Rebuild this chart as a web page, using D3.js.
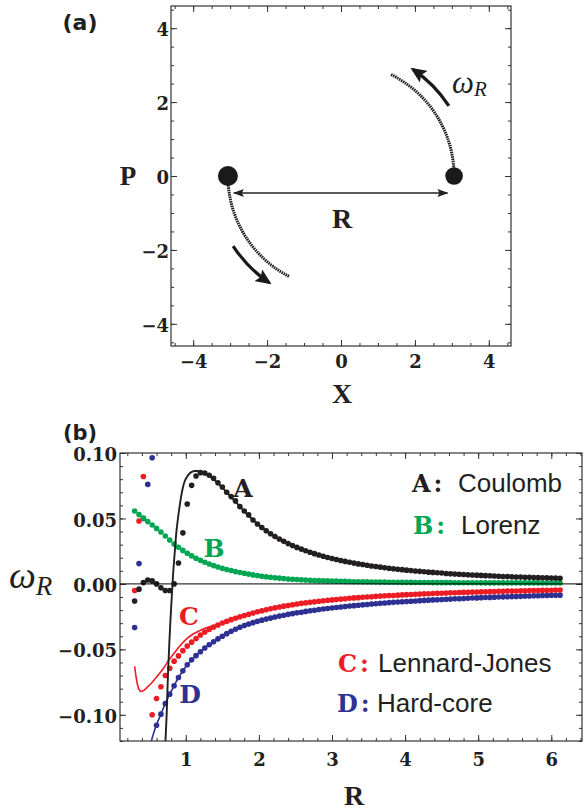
<!DOCTYPE html>
<html><head><meta charset="utf-8">
<script src="https://cdn.jsdelivr.net/npm/d3@7"></script>
<style>body{margin:0;background:#fff;}svg{display:block;}</style>
</head><body>
<svg id="c" width="584" height="810"></svg>
<script>
// ================= DATA =================
// Panel (a) schematic
const aTicks = [-4, -2, 0, 2, 4];
const aTickLabels = ["\u22124", "\u22122", "0", "2", "4"];
const particleX = [-3.06, 3.06];
const particleY = [0, 0];
const orbitRadius = 3.06;
const orbitSpanDeg = [[180, 243], [0, 64]];
const arrowRadius = 3.48;
const arrowSpanDeg = [[213, 236], [33, 56]];
const sepArrowX = [-2.9, 2.88];
const sepArrowY = -0.46;

// Panel (b)
const xTicksB = [1, 2, 3, 4, 5, 6];
const xTickLabelsB = ["1", "2", "3", "4", "5", "6"];
const yTicksB = [0.10, 0.05, 0, -0.05, -0.10];
const yTickLabelsB = ["0.10", "0.05", "0.00", "\u22120.05", "\u22120.10"];

const R = [
0.30,0.36,0.42,0.48,0.54,0.60,0.66,0.72,0.78,0.84,
0.90,0.96,1.02,1.08,1.14,1.20,1.26,1.32,1.38,1.44,
1.50,1.56,1.62,1.68,1.74,1.80,1.86,1.92,1.98,2.04,
2.10,2.16,2.22,2.28,2.34,2.40,2.46,2.52,2.58,2.64,
2.70,2.76,2.82,2.88,2.94,3.00,3.06,3.12,3.18,3.24,
3.30,3.36,3.42,3.48,3.54,3.60,3.66,3.72,3.78,3.84,
3.90,3.96,4.02,4.08,4.14,4.20,4.26,4.32,4.38,4.44,
4.50,4.56,4.62,4.68,4.74,4.80,4.86,4.92,4.98,5.04,
5.10,5.16,5.22,5.28,5.34,5.40,5.46,5.52,5.58,5.64,
5.70,5.76,5.82,5.88,5.94,6.00,6.06,6.12];

const coulomb = [
-0.013,-0.004,0.001,0.003,0.0023,0.000,-0.003,-0.005,-0.005,0.000,
0.016,0.039,0.061,0.0753,0.0824,0.085,0.0847,0.083,0.0807,0.0773,
0.074,0.070,0.0667,0.0634,0.059,0.0557,0.0527,0.0488,0.0458,0.0431,
0.0406,0.0383,0.0362,0.0343,0.0325,0.0308,0.0293,0.0279,0.0266,0.0253,
0.0242,0.0231,0.0221,0.0211,0.0202,0.0194,0.0186,0.0179,0.0172,0.0165,
0.0159,0.0153,0.0148,0.0142,0.0137,0.0133,0.0128,0.0124,0.0120,0.0116,
0.0112,0.0109,0.0105,0.0102,0.0099,0.0096,0.0093,0.0090,0.0088,0.0085,
0.0083,0.0080,0.0078,0.0076,0.0074,0.0072,0.0070,0.0068,0.0067,0.0065,
0.0063,0.0062,0.0060,0.0059,0.0057,0.0056,0.0055,0.0053,0.0052,0.0051,
0.0050,0.0049,0.0048,0.0047,0.0046,0.0045,0.0044,0.0043];

const lorenz = [
0.0557,0.0530,0.0503,0.0476,0.0450,0.0424,0.0396,0.0366,0.0335,0.0305,
0.0280,0.0256,0.0234,0.0214,0.0196,0.0180,0.0165,0.0152,0.0140,0.0129,
0.0119,0.0110,0.0102,0.0094,0.0087,0.0081,0.0075,0.0069,0.0064,0.0059,
0.0055,0.0051,0.0047,0.0044,0.0041,0.0038,0.0036,0.0034,0.0032,0.0030,
0.0028,0.0026,0.0025,0.0024,0.0023,0.0022,0.0021,0.0020,0.0019,0.0018,
0.0017,0.0017,0.0016,0.0016,0.0015,0.0015,0.0014,0.0014,0.0013,0.0013,
0.0013,0.0012,0.0012,0.0012,0.0011,0.0011,0.0011,0.0011,0.0010,0.0010,
0.0010,0.0010,0.0010,0.0009,0.0009,0.0009,0.0009,0.0009,0.0009,0.0008,
0.0008,0.0008,0.0008,0.0008,0.0008,0.0008,0.0008,0.0008,0.0008,0.0008,
0.0008,0.0008,0.0008,0.0007,0.0007,0.0007,0.0007,0.0007];

const lennardJones = [
-0.005,0.048,0.082,null,-0.100,-0.0875,-0.0786,-0.070,-0.0644,-0.059,
-0.055,-0.051,-0.0475,-0.0445,-0.0417,-0.039,-0.0368,-0.0348,-0.033,-0.0314,
-0.0299,-0.0286,-0.0273,-0.0262,-0.0251,-0.0241,-0.0232,-0.0222,-0.0213,-0.0205,
-0.0197,-0.0190,-0.0183,-0.0176,-0.0170,-0.0165,-0.0159,-0.0154,-0.0149,-0.0145,
-0.0141,-0.0137,-0.0133,-0.0129,-0.0125,-0.0122,-0.0119,-0.0116,-0.0113,-0.0110,
-0.0107,-0.0105,-0.0102,-0.0100,-0.0098,-0.0095,-0.0093,-0.0091,-0.0089,-0.0088,
-0.0086,-0.0084,-0.0082,-0.0081,-0.0079,-0.0078,-0.0076,-0.0075,-0.0073,-0.0072,
-0.0071,-0.0070,-0.0068,-0.0067,-0.0066,-0.0065,-0.0064,-0.0063,-0.0062,-0.0061,
-0.0060,-0.0059,-0.0058,-0.0057,-0.0056,-0.0055,-0.0055,-0.0054,-0.0053,-0.0052,
-0.0051,-0.0051,-0.0050,-0.0049,-0.0049,-0.0048,-0.0047,-0.0047];

const hardCore = [
-0.0333,0.0155,0.050,0.076,0.0964,-0.108,-0.0995,-0.0913,-0.0842,-0.0778,
-0.0715,-0.0664,-0.0618,-0.0580,-0.0548,-0.0518,-0.0490,-0.0465,-0.0442,-0.0420,
-0.0400,-0.0380,-0.0362,-0.0346,-0.0331,-0.0318,-0.0306,-0.0296,-0.0286,-0.0277,
-0.0269,-0.0261,-0.0253,-0.0246,-0.0239,-0.0233,-0.0227,-0.0221,-0.0216,-0.0210,
-0.0205,-0.0201,-0.0196,-0.0192,-0.0188,-0.0184,-0.0180,-0.0176,-0.0172,-0.0169,
-0.0166,-0.0163,-0.0160,-0.0157,-0.0154,-0.0151,-0.0148,-0.0146,-0.0143,-0.0141,
-0.0139,-0.0136,-0.0134,-0.0132,-0.0130,-0.0128,-0.0126,-0.0124,-0.0122,-0.0121,
-0.0119,-0.0117,-0.0116,-0.0114,-0.0113,-0.0111,-0.0110,-0.0108,-0.0107,-0.0105,
-0.0104,-0.0103,-0.0101,-0.0100,-0.0099,-0.0098,-0.0097,-0.0096,-0.0095,-0.0093,
-0.0092,-0.0091,-0.0090,-0.0089,-0.0088,-0.0087,-0.0087,-0.0086];

// analytic curves (solid lines)
const coulombLineR = [0.715,0.74,0.757,0.775,0.79,0.81,0.826,0.85,0.87,0.895,0.92,0.94,0.96,0.986,1.02,1.055,1.09,1.12,1.16,1.2,1.26,1.32,1.4,1.5,1.6,1.7,1.8,1.9,2.0,2.2,2.4,2.6,2.8,3.0,3.3,3.6,4.0,4.5,5.0,5.5,6.12];
const coulombLineW = [-0.128,-0.097,-0.068,-0.045,-0.028,-0.008,0.007,0.025,0.039,0.051,0.061,0.068,0.0735,0.0786,0.082,0.0845,0.0858,0.0863,0.0862,0.0856,0.0843,0.0824,0.079,0.0735,0.0675,0.0615,0.0555,0.050,0.045,0.0368,0.0308,0.0262,0.0224,0.0194,0.0159,0.0133,0.0106,0.0083,0.0066,0.0054,0.0043];
const ljLineR = [0.30,0.32,0.34,0.36,0.39,0.43,0.47,0.52,0.58,0.64,0.70,0.76,0.84,0.92,1.00,1.08,1.16,1.24,1.32,1.40,1.50,1.62,1.74,1.86,2.0,2.2,2.4,2.7,3.0,3.5,4.0,4.5,5.0,5.5,6.12];
const ljLineW = [-0.063,-0.071,-0.077,-0.0805,-0.0822,-0.0812,-0.079,-0.0765,-0.0725,-0.0685,-0.064,-0.0588,-0.053,-0.0472,-0.0425,-0.039,-0.0365,-0.0345,-0.0328,-0.0315,-0.0299,-0.0273,-0.0251,-0.0232,-0.0211,-0.0186,-0.0165,-0.0141,-0.0122,-0.0099,-0.0083,-0.0071,-0.0061,-0.0054,-0.0047];
const hcLineR = [0.515,0.53,0.56,0.60,0.66,0.72,0.78,0.84,0.90,0.96,1.02,1.10,1.20,1.35,1.50,1.70,1.86,2.1,2.4,2.7,3.0,3.5,4.0,4.5,5.0,5.5,6.12];
const hcLineW = [-0.125,-0.12,-0.114,-0.1075,-0.0995,-0.0913,-0.0842,-0.0778,-0.0715,-0.0664,-0.0618,-0.0568,-0.0518,-0.0453,-0.0400,-0.0341,-0.0306,-0.0269,-0.0233,-0.0205,-0.0184,-0.0155,-0.0134,-0.0119,-0.0106,-0.0096,-0.0086];

const seriesKeys = ["A", "B", "C", "D"];
const seriesNames = ["Coulomb", "Lorenz", "Lennard-Jones", "Hard-core"];

// ================= STYLE / LAYOUT =================
const COL = {A: "#231f20", B: "#00a651", C: "#ed1c24", D: "#2e3192"};
const INK = "#231f20";
const TICKFONT = "'DejaVu Serif', serif";
const LABELFONT = "'Liberation Serif', 'Times New Roman', serif";
const KEYFONT = "'DejaVu Serif', serif";
const SANS = "'Liberation Sans', Arial, sans-serif";

const svg = d3.select("#c");
const defs = svg.append("defs");

const xa = d3.scaleLinear().domain([-4.6, 4.6]).range([171, 511]);
const ya = d3.scaleLinear().domain([-4.6, 4.6]).range([346, 6]);
const xb = d3.scaleLinear().domain([0.1, 6.42]).range([120, 582]);
const yb = d3.scaleLinear().domain([-0.12, 0.10]).range([741, 453]);

function drawFrame(x, y, cfg) {
  const [x0, x1] = x.range(), [y0, y1] = y.range();
  const g = svg.append("g");
  const mk = (axis, tr) => {
    const s = g.append("g").attr("transform", tr).call(axis);
    s.select(".domain").remove();
    s.attr("font-size", null).attr("font-family", null);
    return s;
  };
  mk(d3.axisBottom(x).tickValues(cfg.xMinor).tickSize(-3).tickFormat(""), `translate(0,${y0})`);
  mk(d3.axisTop(x).tickValues(cfg.xMinor).tickSize(-3).tickFormat(""), `translate(0,${y1})`);
  mk(d3.axisLeft(y).tickValues(cfg.yMinor).tickSize(-3).tickFormat(""), `translate(${x0},0)`);
  mk(d3.axisRight(y).tickValues(cfg.yMinor).tickSize(-3).tickFormat(""), `translate(${x1},0)`);
  mk(d3.axisBottom(x).tickValues(cfg.xMajor).tickSize(-6).tickPadding(cfg.xPad)
      .tickFormat((d, i) => cfg.xLabels[i]), `translate(0,${y0})`);
  mk(d3.axisTop(x).tickValues(cfg.xMajor).tickSize(-6).tickFormat(""), `translate(0,${y1})`);
  const ly = mk(d3.axisLeft(y).tickValues(cfg.yMajor).tickSize(-6).tickPadding(cfg.yPad)
      .tickFormat((d, i) => cfg.yLabels[i]), `translate(${x0},0)`);
  mk(d3.axisRight(y).tickValues(cfg.yMajor).tickSize(-6).tickFormat(""), `translate(${x1},0)`);
  g.selectAll(".tick line").attr("stroke", "#333").attr("stroke-width", 1);
  g.selectAll("text").attr("font-family", TICKFONT).attr("font-weight", "bold")
    .attr("font-size", 18).attr("fill", INK);
  ly.selectAll("text").attr("dy", "0.42em");
  g.append("rect").attr("x", x0).attr("y", y1).attr("width", x1 - x0).attr("height", y0 - y1)
    .attr("fill", "none").attr("stroke", "#333").attr("stroke-width", 1.2);
  return g;
}

// ================= PANEL (a) =================
drawFrame(xa, ya, {
  xMajor: aTicks, xLabels: aTickLabels, xMinor: d3.range(-4.5, 4.51, 0.5), xPad: 9,
  yMajor: aTicks, yLabels: aTickLabels, yMinor: d3.range(-4.5, 4.51, 0.5), yPad: 2
});

const pxPerUnit = xa(1) - xa(0);
const cx = xa(0), cy = ya(0);
const toRad = d => -d * Math.PI / 180;

// dotted orbit arcs
orbitSpanDeg.forEach(([a0, a1]) => {
  const p = d3.path();
  p.arc(cx, cy, orbitRadius * pxPerUnit, toRad(a0), toRad(a1), true);
  svg.append("path").attr("d", p.toString()).attr("fill", "none")
    .attr("stroke", "#1a1a1a").attr("stroke-width", 3).attr("stroke-dasharray", "1.5,0.8");
});

// motion arrows
defs.append("marker").attr("id", "ah").attr("viewBox", "0 0 16 14")
  .attr("refX", 13).attr("refY", 7).attr("markerWidth", 16).attr("markerHeight", 14)
  .attr("markerUnits", "userSpaceOnUse").attr("orient", "auto")
  .append("path").attr("d", "M0,0 L16,7 L0,14 L3,7 Z").attr("fill", "#1a1a1a");
arrowSpanDeg.forEach(([a0, a1]) => {
  const p = d3.path();
  p.arc(cx, cy, arrowRadius * pxPerUnit, toRad(a0), toRad(a1), true);
  svg.append("path").attr("d", p.toString()).attr("fill", "none")
    .attr("stroke", "#1a1a1a").attr("stroke-width", 3.2).attr("marker-end", "url(#ah)");
});

// separation double arrow
defs.append("marker").attr("id", "sa").attr("viewBox", "0 0 11 8")
  .attr("refX", 10).attr("refY", 4).attr("markerWidth", 11).attr("markerHeight", 8)
  .attr("markerUnits", "userSpaceOnUse").attr("orient", "auto-start-reverse")
  .append("path").attr("d", "M0,0 L11,4 L0,8 L2,4 Z").attr("fill", "#222");
svg.append("line").attr("x1", xa(sepArrowX[0])).attr("x2", xa(sepArrowX[1]))
  .attr("y1", ya(sepArrowY)).attr("y2", ya(sepArrowY))
  .attr("stroke", "#222").attr("stroke-width", 1.6)
  .attr("marker-start", "url(#sa)").attr("marker-end", "url(#sa)");

// particles
const particleSize = [10, 8.8];
particleX.forEach((px, i) => {
  svg.append("circle").attr("cx", xa(px)).attr("cy", ya(particleY[i]))
    .attr("r", particleSize[i]).attr("fill", "#1a1a1a");
});

// panel (a) texts
svg.append("text").attr("x", 80).attr("y", 30).attr("text-anchor", "middle")
  .attr("font-family", "'DejaVu Sans', sans-serif").attr("font-weight", "bold")
  .attr("font-size", 22).attr("fill", INK).text("(a)");
svg.append("text").attr("x", 128).attr("y", 185).attr("text-anchor", "middle")
  .attr("font-family", LABELFONT).attr("font-weight", "bold").attr("font-size", 27)
  .attr("fill", INK).text("P");
svg.append("text").attr("x", 342).attr("y", 403).attr("text-anchor", "middle")
  .attr("font-family", LABELFONT).attr("font-weight", "bold").attr("font-size", 28)
  .attr("fill", INK).text("X");
svg.append("text").attr("x", 342).attr("y", 228).attr("text-anchor", "middle")
  .attr("font-family", LABELFONT).attr("font-weight", "bold").attr("font-size", 28)
  .attr("fill", INK).text("R");
const wa = svg.append("text").attr("x", 452).attr("y", 93)
  .attr("font-family", LABELFONT).attr("font-style", "italic").attr("fill", INK);
wa.append("tspan").attr("font-size", 31).text("\u03c9");
wa.append("tspan").attr("font-size", 21).attr("dy", 3).text("R");

// ================= PANEL (b) =================
drawFrame(xb, yb, {
  xMajor: xTicksB, xLabels: xTickLabelsB, xMinor: d3.range(0.2, 6.41, 0.2), xPad: 12,
  yMajor: yTicksB, yLabels: yTickLabelsB, yMinor: d3.range(-0.12, 0.1001, 0.01), yPad: 3
});

defs.append("clipPath").attr("id", "clipb").append("rect")
  .attr("x", xb.range()[0]).attr("y", yb.range()[1])
  .attr("width", xb.range()[1] - xb.range()[0]).attr("height", yb.range()[0] - yb.range()[1]);
const plot = svg.append("g").attr("clip-path", "url(#clipb)");

const seriesVals = {A: coulomb, B: lorenz, C: lennardJones, D: hardCore};
["D", "C", "B", "A"].forEach(k => {
  const pts = R.map((r, i) => [r, seriesVals[k][i]]).filter(d => d[1] !== null);
  plot.append("g").selectAll("circle").data(pts).join("circle")
    .attr("cx", d => xb(d[0])).attr("cy", d => yb(d[1])).attr("r", 2.8).attr("fill", COL[k]);
});

// zero line
plot.append("line").attr("x1", xb.range()[0]).attr("x2", xb.range()[1])
  .attr("y1", yb(0)).attr("y2", yb(0)).attr("stroke", "#000").attr("stroke-width", 1);

const line = d3.line().x(d => xb(d[0])).y(d => yb(d[1])).curve(d3.curveMonotoneX);
[[hcLineR, hcLineW, "D", 1.6], [ljLineR, ljLineW, "C", 1.6], [coulombLineR, coulombLineW, "A", 1.9]].forEach(([rs, ws, k, sw]) => {
  plot.append("path").attr("d", line(d3.zip(rs, ws))).attr("fill", "none")
    .attr("stroke", COL[k]).attr("stroke-width", sw);
});

// curve labels
const curveLabelPos = {A: [243, 497], B: [214, 557], C: [189, 625], D: [190, 703]};
seriesKeys.forEach(k => {
  svg.append("text").attr("x", curveLabelPos[k][0]).attr("y", curveLabelPos[k][1])
    .attr("text-anchor", "middle").attr("font-family", KEYFONT).attr("font-weight", "bold")
    .attr("font-size", 25).attr("fill", COL[k]).text(k);
});

// legend
const legendPos = [[412, 492, 458], [413, 534, 461], [338, 672, 378], [337, 712, 377]];
seriesKeys.forEach((k, i) => {
  const [kx, by, nx] = legendPos[i];
  svg.append("text").attr("x", kx).attr("y", by).attr("font-family", KEYFONT)
    .attr("font-weight", "bold").attr("font-size", 24).attr("fill", COL[k])
    .attr("letter-spacing", 3).text(k + ":");
  svg.append("text").attr("x", nx).attr("y", by).attr("font-family", SANS)
    .attr("font-size", 26).attr("fill", INK).text(seriesNames[i]);
});

// panel (b) texts
svg.append("text").attr("x", 80).attr("y", 440).attr("text-anchor", "middle")
  .attr("font-family", "'DejaVu Sans', sans-serif").attr("font-weight", "bold")
  .attr("font-size", 21).attr("fill", INK).text("(b)");
svg.append("text").attr("x", 354).attr("y", 805).attr("text-anchor", "middle")
  .attr("font-family", LABELFONT).attr("font-weight", "bold").attr("font-size", 28)
  .attr("fill", INK).text("R");
const wb = svg.append("text").attr("x", 9).attr("y", 588)
  .attr("font-family", LABELFONT).attr("font-style", "italic").attr("fill", INK);
wb.append("tspan").attr("font-size", 38).text("\u03c9");
wb.append("tspan").attr("font-size", 27).attr("dy", 7).text("R");
</script>
</body></html>
